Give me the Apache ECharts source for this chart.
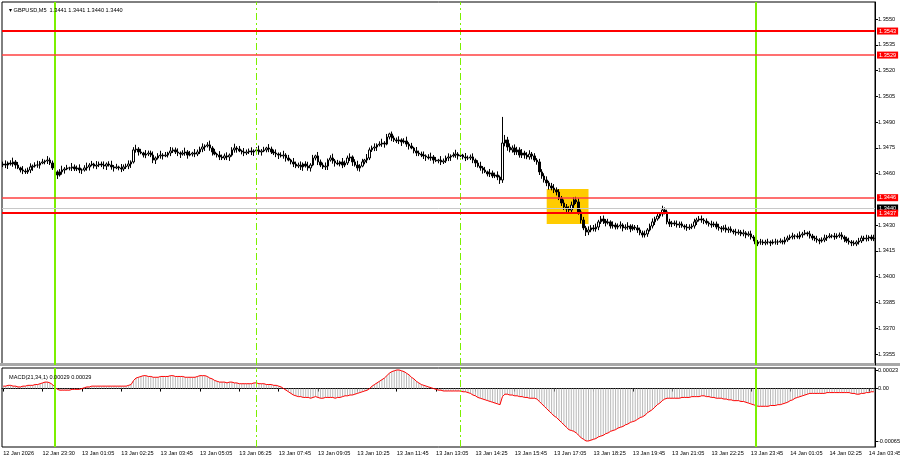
<!DOCTYPE html>
<html><head><meta charset="utf-8">
<script src="https://cdn.jsdelivr.net/npm/echarts@6/dist/echarts.min.js"></script>
<style>html,body{margin:0;padding:0;background:#fff}#c{width:900px;height:460px}</style>
</head><body><div id="c"></div>
<script>
// ---- OHLC (GBPUSD M5) ----
const opens=[1.34650,
1.34656,1.34650,1.34662,1.34656,1.34668,1.34650,1.34633,1.34621,1.34615,1.34610,
1.34621,1.34639,1.34644,1.34650,1.34650,1.34662,1.34668,1.34674,1.34679,1.34662,
1.34633,1.34610,1.34592,1.34610,1.34621,1.34627,1.34633,1.34633,1.34639,1.34627,
1.34633,1.34621,1.34621,1.34633,1.34639,1.34650,1.34656,1.34644,1.34650,1.34656,
1.34650,1.34644,1.34656,1.34650,1.34639,1.34633,1.34639,1.34633,1.34627,1.34639,
1.34644,1.34656,1.34668,1.34738,1.34743,1.34726,1.34720,1.34708,1.34714,1.34720,
1.34708,1.34679,1.34691,1.34703,1.34708,1.34703,1.34708,1.34720,1.34732,1.34738,
1.34726,1.34720,1.34714,1.34720,1.34726,1.34708,1.34714,1.34720,1.34714,1.34726,
1.34743,1.34755,1.34761,1.34767,1.34749,1.34726,1.34714,1.34708,1.34697,1.34691,
1.34703,1.34697,1.34708,1.34738,1.34749,1.34743,1.34732,1.34726,1.34720,1.34726,
1.34732,1.34726,1.34732,1.34738,1.34726,1.34732,1.34738,1.34749,1.34743,1.34726,
1.34720,1.34714,1.34708,1.34703,1.34708,1.34691,1.34679,1.34668,1.34656,1.34644,
1.34650,1.34639,1.34656,1.34644,1.34633,1.34650,1.34691,1.34703,1.34668,1.34650,
1.34639,1.34644,1.34679,1.34691,1.34674,1.34662,1.34656,1.34668,1.34650,1.34662,
1.34691,1.34697,1.34668,1.34650,1.34633,1.34644,1.34668,1.34679,1.34691,1.34738,
1.34749,1.34755,1.34767,1.34772,1.34778,1.34772,1.34813,1.34831,1.34807,1.34796,
1.34790,1.34796,1.34784,1.34790,1.34772,1.34761,1.34749,1.34732,1.34720,1.34714,
1.34708,1.34703,1.34697,1.34691,1.34697,1.34679,1.34674,1.34679,1.34668,1.34674,
1.34691,1.34697,1.34703,1.34708,1.34714,1.34703,1.34708,1.34697,1.34691,1.34691,
1.34697,1.34679,1.34662,1.34644,1.34633,1.34621,1.34610,1.34598,1.34604,1.34586,
1.34592,1.34580,1.34563,1.34778,1.34796,1.34755,1.34738,1.34749,1.34726,1.34738,
1.34708,1.34720,1.34708,1.34697,1.34714,1.34703,1.34679,1.34668,1.34610,1.34586,
1.34563,1.34546,1.34528,1.34516,1.34505,1.34493,1.34458,1.34429,1.34406,1.34394,
1.34388,1.34417,1.34447,1.34435,1.34377,1.34330,1.34284,1.34260,1.34272,1.34284,
1.34278,1.34289,1.34319,1.34336,1.34324,1.34313,1.34319,1.34295,1.34301,1.34289,
1.34295,1.34301,1.34284,1.34289,1.34295,1.34278,1.34289,1.34284,1.34272,1.34255,
1.34243,1.34249,1.34272,1.34295,1.34319,1.34336,1.34353,1.34365,1.34388,1.34377,
1.34319,1.34307,1.34313,1.34307,1.34301,1.34307,1.34295,1.34289,1.34284,1.34289,
1.34295,1.34319,1.34330,1.34336,1.34330,1.34324,1.34313,1.34307,1.34301,1.34307,
1.34289,1.34284,1.34278,1.34284,1.34272,1.34278,1.34266,1.34260,1.34255,1.34260,
1.34249,1.34255,1.34243,1.34249,1.34231,1.34225,1.34191,1.34202,1.34202,1.34196,
1.34202,1.34202,1.34196,1.34202,1.34202,1.34202,1.34208,1.34202,1.34214,1.34225,
1.34231,1.34237,1.34237,1.34231,1.34243,1.34249,1.34255,1.34249,1.34237,1.34225,
1.34220,1.34214,1.34208,1.34214,1.34225,1.34231,1.34237,1.34237,1.34231,1.34237,
1.34243,1.34231,1.34220,1.34208,1.34202,1.34196,1.34191,1.34202,1.34208,1.34225,
1.34220,1.34225,1.34231,1.34220];
const highs=[
1.34670,1.34677,1.34671,1.34678,1.34693,1.34679,1.34668,1.34640,1.34644,1.34629,
1.34635,1.34660,1.34653,1.34666,1.34675,1.34673,1.34686,1.34681,1.34702,1.34693,
1.34676,1.34654,1.34619,1.34626,1.34646,1.34638,1.34651,1.34640,1.34662,1.34653,
1.34647,1.34654,1.34630,1.34649,1.34664,1.34661,1.34674,1.34663,1.34673,1.34670,
1.34670,1.34671,1.34665,1.34672,1.34675,1.34650,1.34657,1.34646,1.34656,1.34653,
1.34658,1.34677,1.34677,1.34754,1.34768,1.34754,1.34744,1.34727,1.34737,1.34734,
1.34734,1.34729,1.34700,1.34719,1.34733,1.34719,1.34726,1.34727,1.34755,1.34752,
1.34752,1.34747,1.34729,1.34736,1.34751,1.34737,1.34732,1.34727,1.34743,1.34740,
1.34757,1.34776,1.34770,1.34783,1.34792,1.34760,1.34744,1.34721,1.34731,1.34711,
1.34717,1.34724,1.34717,1.34754,1.34774,1.34760,1.34761,1.34739,1.34749,1.34740,
1.34746,1.34753,1.34741,1.34754,1.34763,1.34743,1.34756,1.34756,1.34772,1.34757,
1.34740,1.34741,1.34723,1.34724,1.34733,1.34719,1.34709,1.34686,1.34691,1.34670,
1.34664,1.34671,1.34665,1.34672,1.34669,1.34661,1.34709,1.34710,1.34726,1.34682,
1.34664,1.34665,1.34688,1.34707,1.34716,1.34685,1.34680,1.34675,1.34691,1.34676,
1.34705,1.34718,1.34706,1.34684,1.34675,1.34655,1.34686,1.34686,1.34714,1.34752,
1.34763,1.34776,1.34776,1.34788,1.34803,1.34789,1.34831,1.34838,1.34845,1.34821,
1.34810,1.34817,1.34805,1.34806,1.34815,1.34783,1.34779,1.34756,1.34755,1.34734,
1.34728,1.34729,1.34712,1.34713,1.34722,1.34708,1.34697,1.34686,1.34702,1.34688,
1.34705,1.34718,1.34712,1.34724,1.34739,1.34725,1.34726,1.34715,1.34720,1.34705,
1.34711,1.34718,1.34688,1.34678,1.34669,1.34644,1.34639,1.34617,1.34627,1.34618,
1.34606,1.34613,1.34589,1.34930,1.34825,1.34814,1.34776,1.34764,1.34770,1.34756,
1.34753,1.34743,1.34733,1.34725,1.34736,1.34726,1.34719,1.34690,1.34686,1.34626,
1.34602,1.34584,1.34558,1.34546,1.34539,1.34520,1.34510,1.34470,1.34449,1.34423,
1.34410,1.34437,1.34463,1.34465,1.34456,1.34391,1.34348,1.34296,1.34293,1.34300,
1.34301,1.34309,1.34331,1.34353,1.34356,1.34336,1.34337,1.34328,1.34322,1.34314,
1.34310,1.34322,1.34311,1.34305,1.34317,1.34305,1.34305,1.34301,1.34301,1.34286,
1.34268,1.34268,1.34283,1.34309,1.34339,1.34349,1.34370,1.34376,1.34413,1.34403,
1.34390,1.34337,1.34325,1.34327,1.34327,1.34321,1.34321,1.34304,1.34307,1.34305,
1.34309,1.34337,1.34343,1.34353,1.34356,1.34341,1.34339,1.34322,1.34326,1.34320,
1.34321,1.34308,1.34295,1.34299,1.34303,1.34291,1.34293,1.34276,1.34279,1.34275,
1.34272,1.34274,1.34265,1.34264,1.34268,1.34242,1.34240,1.34214,1.34220,1.34216,
1.34215,1.34221,1.34211,1.34217,1.34221,1.34216,1.34223,1.34216,1.34232,1.34239,
1.34245,1.34256,1.34247,1.34252,1.34263,1.34261,1.34272,1.34263,1.34267,1.34249,
1.34238,1.34238,1.34224,1.34229,1.34245,1.34243,1.34253,1.34247,1.34255,1.34252,
1.34257,1.34259,1.34241,1.34233,1.34227,1.34213,1.34211,1.34212,1.34226,1.34239,
1.34238,1.34244,1.34241,1.34244,1.34244];
const lows=[
1.34638,1.34632,1.34627,1.34647,1.34640,1.34629,1.34626,1.34607,1.34597,1.34598,
1.34598,1.34603,1.34616,1.34635,1.34634,1.34629,1.34655,1.34654,1.34656,1.34650,
1.34621,1.34592,1.34569,1.34583,1.34594,1.34600,1.34620,1.34619,1.34615,1.34615,
1.34615,1.34603,1.34598,1.34612,1.34617,1.34618,1.34643,1.34630,1.34626,1.34638,
1.34638,1.34626,1.34621,1.34641,1.34623,1.34612,1.34626,1.34619,1.34609,1.34615,
1.34627,1.34626,1.34633,1.34659,1.34722,1.34705,1.34713,1.34694,1.34690,1.34702,
1.34696,1.34661,1.34656,1.34682,1.34687,1.34682,1.34696,1.34694,1.34702,1.34720,
1.34714,1.34702,1.34691,1.34705,1.34704,1.34687,1.34701,1.34700,1.34696,1.34702,
1.34714,1.34725,1.34732,1.34752,1.34733,1.34705,1.34707,1.34694,1.34679,1.34679,
1.34679,1.34679,1.34674,1.34699,1.34722,1.34722,1.34725,1.34712,1.34702,1.34708,
1.34714,1.34708,1.34703,1.34723,1.34710,1.34705,1.34725,1.34724,1.34725,1.34714,
1.34708,1.34696,1.34685,1.34694,1.34687,1.34670,1.34672,1.34654,1.34638,1.34632,
1.34632,1.34621,1.34616,1.34635,1.34617,1.34612,1.34643,1.34677,1.34650,1.34638,
1.34627,1.34621,1.34621,1.34670,1.34658,1.34641,1.34649,1.34642,1.34632,1.34638,
1.34650,1.34673,1.34645,1.34641,1.34617,1.34612,1.34637,1.34654,1.34661,1.34679,
1.34726,1.34731,1.34732,1.34758,1.34756,1.34751,1.34765,1.34799,1.34789,1.34784,
1.34778,1.34772,1.34761,1.34775,1.34756,1.34740,1.34742,1.34718,1.34702,1.34702,
1.34696,1.34685,1.34674,1.34682,1.34675,1.34658,1.34667,1.34660,1.34650,1.34656,
1.34662,1.34673,1.34674,1.34694,1.34692,1.34682,1.34696,1.34683,1.34673,1.34679,
1.34679,1.34661,1.34639,1.34635,1.34617,1.34600,1.34603,1.34584,1.34580,1.34574,
1.34574,1.34562,1.34540,1.34546,1.34759,1.34733,1.34724,1.34722,1.34708,1.34709,
1.34693,1.34691,1.34687,1.34684,1.34681,1.34683,1.34668,1.34652,1.34592,1.34570,
1.34548,1.34527,1.34507,1.34503,1.34487,1.34473,1.34446,1.34412,1.34388,1.34377,
1.34372,1.34370,1.34397,1.34423,1.34361,1.34310,1.34271,1.34237,1.34242,1.34259,
1.34264,1.34262,1.34271,1.34307,1.34307,1.34293,1.34304,1.34280,1.34280,1.34275,
1.34276,1.34280,1.34264,1.34273,1.34273,1.34259,1.34268,1.34271,1.34255,1.34241,
1.34228,1.34228,1.34232,1.34263,1.34281,1.34301,1.34326,1.34340,1.34350,1.34363,
1.34305,1.34290,1.34289,1.34295,1.34286,1.34284,1.34285,1.34275,1.34267,1.34272,
1.34277,1.34280,1.34301,1.34321,1.34314,1.34306,1.34303,1.34292,1.34285,1.34289,
1.34276,1.34268,1.34258,1.34268,1.34257,1.34255,1.34256,1.34247,1.34239,1.34244,
1.34236,1.34235,1.34224,1.34233,1.34216,1.34206,1.34164,1.34178,1.34186,1.34184,
1.34183,1.34187,1.34178,1.34187,1.34187,1.34185,1.34194,1.34188,1.34188,1.34203,
1.34214,1.34217,1.34218,1.34221,1.34218,1.34227,1.34241,1.34235,1.34222,1.34212,
1.34207,1.34198,1.34189,1.34198,1.34201,1.34208,1.34223,1.34224,1.34215,1.34220,
1.34226,1.34216,1.34201,1.34197,1.34187,1.34178,1.34180,1.34178,1.34187,1.34196,
1.34207,1.34205,1.34207,1.34209,1.34207];
const closes=[
1.34656,1.34650,1.34662,1.34656,1.34668,1.34650,1.34633,1.34621,1.34615,1.34610,
1.34621,1.34639,1.34644,1.34650,1.34650,1.34662,1.34668,1.34674,1.34679,1.34662,
1.34633,1.34610,1.34592,1.34610,1.34621,1.34627,1.34633,1.34633,1.34639,1.34627,
1.34633,1.34621,1.34621,1.34633,1.34639,1.34650,1.34656,1.34644,1.34650,1.34656,
1.34650,1.34644,1.34656,1.34650,1.34639,1.34633,1.34639,1.34633,1.34627,1.34639,
1.34644,1.34656,1.34668,1.34738,1.34743,1.34726,1.34720,1.34708,1.34714,1.34720,
1.34708,1.34679,1.34691,1.34703,1.34708,1.34703,1.34708,1.34720,1.34732,1.34738,
1.34726,1.34720,1.34714,1.34720,1.34726,1.34708,1.34714,1.34720,1.34714,1.34726,
1.34743,1.34755,1.34761,1.34767,1.34749,1.34726,1.34714,1.34708,1.34697,1.34691,
1.34703,1.34697,1.34708,1.34738,1.34749,1.34743,1.34732,1.34726,1.34720,1.34726,
1.34732,1.34726,1.34732,1.34738,1.34726,1.34732,1.34738,1.34749,1.34743,1.34726,
1.34720,1.34714,1.34708,1.34703,1.34708,1.34691,1.34679,1.34668,1.34656,1.34644,
1.34650,1.34639,1.34656,1.34644,1.34633,1.34650,1.34691,1.34703,1.34668,1.34650,
1.34639,1.34644,1.34679,1.34691,1.34674,1.34662,1.34656,1.34668,1.34650,1.34662,
1.34691,1.34697,1.34668,1.34650,1.34633,1.34644,1.34668,1.34679,1.34691,1.34738,
1.34749,1.34755,1.34767,1.34772,1.34778,1.34772,1.34813,1.34831,1.34807,1.34796,
1.34790,1.34796,1.34784,1.34790,1.34772,1.34761,1.34749,1.34732,1.34720,1.34714,
1.34708,1.34703,1.34697,1.34691,1.34697,1.34679,1.34674,1.34679,1.34668,1.34674,
1.34691,1.34697,1.34703,1.34708,1.34714,1.34703,1.34708,1.34697,1.34691,1.34691,
1.34697,1.34679,1.34662,1.34644,1.34633,1.34621,1.34610,1.34598,1.34604,1.34586,
1.34592,1.34580,1.34563,1.34778,1.34796,1.34755,1.34738,1.34749,1.34726,1.34738,
1.34708,1.34720,1.34708,1.34697,1.34714,1.34703,1.34679,1.34668,1.34610,1.34586,
1.34563,1.34546,1.34528,1.34516,1.34505,1.34493,1.34458,1.34429,1.34406,1.34394,
1.34388,1.34417,1.34447,1.34435,1.34377,1.34330,1.34284,1.34260,1.34272,1.34284,
1.34278,1.34289,1.34319,1.34336,1.34324,1.34313,1.34319,1.34295,1.34301,1.34289,
1.34295,1.34301,1.34284,1.34289,1.34295,1.34278,1.34289,1.34284,1.34272,1.34255,
1.34243,1.34249,1.34272,1.34295,1.34319,1.34336,1.34353,1.34365,1.34388,1.34377,
1.34319,1.34307,1.34313,1.34307,1.34301,1.34307,1.34295,1.34289,1.34284,1.34289,
1.34295,1.34319,1.34330,1.34336,1.34330,1.34324,1.34313,1.34307,1.34301,1.34307,
1.34289,1.34284,1.34278,1.34284,1.34272,1.34278,1.34266,1.34260,1.34255,1.34260,
1.34249,1.34255,1.34243,1.34249,1.34231,1.34225,1.34191,1.34202,1.34202,1.34196,
1.34202,1.34202,1.34196,1.34202,1.34202,1.34202,1.34208,1.34202,1.34214,1.34225,
1.34231,1.34237,1.34237,1.34231,1.34243,1.34249,1.34255,1.34249,1.34237,1.34225,
1.34220,1.34214,1.34208,1.34214,1.34225,1.34231,1.34237,1.34237,1.34231,1.34237,
1.34243,1.34231,1.34220,1.34208,1.34202,1.34196,1.34191,1.34202,1.34208,1.34225,
1.34220,1.34225,1.34231,1.34220,1.34225];
// ---- MACD(21,34,1) main = signal ----
const macd=[
0.00003,0.00003,0.00004,0.00004,0.00003,0.00003,0.00002,0.00002,0.00003,0.00003,0.00004,0.00004,0.00004,0.00005,0.00005,0.00006,0.00007,0.00008,
0.00008,0.00007,0.00005,0.00002,
-0.00001,-0.00002,-0.00002,-0.00002,-0.00002,-0.00002,-0.00001,-0.00001,-0.00001,-0.00001,0,
0.00001,0.00002,0.00002,0.00003,0.00003,0.00003,0.00003,0.00003,0.00003,0.00003,0.00003,0.00003,0.00003,0.00003,0.00003,0.00003,0.00003,0.00003,0.00004,0.00005,
0.00010,0.00013,0.00014,0.00015,0.00016,0.00016,0.00015,0.00015,
0.00014,0.00014,0.00014,0.00015,0.00015,0.00015,0.00015,0.00016,0.00016,0.00015,0.00015,0.00015,0.00015,0.00014,0.00014,0.00014,0.00014,0.00014,0.00015,0.00016,0.00016,0.00016,0.00015,0.00013,0.00012,
0.00010,0.00009,0.00008,0.00008,0.00008,0.00007,0.00008,0.00008,0.00007,0.00007,
0.00006,0.00006,0.00006,0.00006,0.00006,0.00006,0.00007,0.00007,0.00006,0.00006,0.00006,0.00005,0.00005,0.00005,0.00004,0.00004,0.00003,
0.00002,0,-0.00002,-0.00004,-0.00006,-0.00008,-0.00009,-0.00010,
-0.00010,-0.00011,-0.00011,-0.00011,-0.00012,-0.00011,-0.00010,-0.00011,-0.00012,-0.00012,-0.00011,-0.00011,-0.00011,-0.00011,-0.00012,-0.00011,-0.00011,-0.00010,-0.00009,-0.00009,
-0.00008,-0.00008,-0.00007,-0.00006,-0.00005,-0.00004,-0.00003,-0.00002,
0,0.00003,0.00005,0.00007,0.00009,0.00011,0.00013,0.00016,
0.00019,0.00021,0.00022,0.00023,0.00023,0.00022,0.00021,0.00019,0.00017,0.00014,
0.00012,0.00009,0.00007,0.00005,0.00004,0.00003,0.00002,0.00001,
0,-0.00001,-0.00002,-0.00002,-0.00003,-0.00003,-0.00003,-0.00003,-0.00003,-0.00003,-0.00003,-0.00003,-0.00004,-0.00004,-0.00005,-0.00006,
-0.00008,-0.00009,-0.00011,-0.00012,-0.00013,-0.00014,-0.00015,-0.00016,-0.00017,-0.00018,-0.00019,-0.00020,
-0.00010,-0.00007,-0.00007,-0.00008,-0.00008,
-0.00009,-0.00009,-0.00010,-0.00010,-0.00011,-0.00011,-0.00012,-0.00012,-0.00012,-0.00013,
-0.00016,-0.00019,-0.00022,-0.00025,-0.00028,-0.00031,-0.00034,-0.00036,-0.00039,-0.00042,-0.00045,-0.00048,-0.00051,-0.00052,-0.00053,-0.00055,
-0.00058,-0.00061,-0.00063,-0.00065,-0.00065,-0.00064,-0.00063,
-0.00062,-0.00060,-0.00059,-0.00058,-0.00056,-0.00055,-0.00053,-0.00052,-0.00051,-0.00049,-0.00048,-0.00047,-0.00045,-0.00044,-0.00042,-0.00041,-0.00040,-0.00038,-0.00036,-0.00035,-0.00033,-0.00030,
-0.00028,-0.00026,-0.00023,-0.00020,-0.00018,-0.00015,-0.00013,-0.00012,-0.00012,-0.00012,
-0.00012,-0.00012,-0.00012,-0.00011,-0.00011,-0.00011,-0.00011,-0.00010,-0.00010,-0.00010,-0.00010,-0.00009,-0.00009,-0.00010,-0.00010,-0.00011,-0.00011,-0.00012,-0.00012,-0.00012,-0.00013,-0.00013,-0.00014,-0.00014,-0.00015,-0.00015,-0.00015,-0.00016,
-0.00016,-0.00017,-0.00018,-0.00019,-0.00020,-0.00021,-0.00022,-0.00022,-0.00022,-0.00022,-0.00022,-0.00021,-0.00021,-0.00021,-0.00020,-0.00020,-0.00019,-0.00018,-0.00017,-0.00015,
-0.00014,-0.00012,-0.00011,-0.00010,-0.00009,-0.00008,-0.00007,-0.00006,-0.00006,-0.00006,-0.00006,-0.00006,-0.00006,-0.00006,-0.00005,-0.00005,-0.00005,
-0.00005,-0.00005,-0.00005,-0.00005,-0.00005,-0.00005,-0.00005,-0.00006,-0.00006,-0.00007,-0.00007,-0.00006,-0.00006,-0.00005,-0.00005,-0.00004,-0.00004];

// ---- axis labels ----
const timeLabels=["12 Jan 2026","12 Jan 23:30","13 Jan 01:05","13 Jan 02:25","13 Jan 03:45","13 Jan 05:05","13 Jan 06:25","13 Jan 07:45","13 Jan 09:05","13 Jan 10:25","13 Jan 11:45","13 Jan 13:05","13 Jan 14:25","13 Jan 15:45","13 Jan 17:05","13 Jan 18:25","13 Jan 19:45","13 Jan 21:05","13 Jan 22:25","13 Jan 23:45","14 Jan 01:05","14 Jan 02:25","14 Jan 03:45"];
const labelStep=16;
const priceTicks=[1.3355,1.3370,1.3385,1.3400,1.3415,1.3430,1.3460,1.3475,1.3490,1.3505,1.3520,1.3535,1.3550];
const macdTicks=[0.00023,0,-0.00065];
// ---- annotations ----
const strongLevels=[1.3543,1.3437];
const weakLevels=[1.3529,1.3446];
const bidPrice=1.3440;
const dayLines=[21,306];
const sessionLines=[103,186];
const boxBars=[221,238];
const boxPrices=[1.34511,1.34307];
const titleText='\u25BE GBPUSD,M5  1.3441 1.3441 1.3440 1.3440';
const macdTitle='MACD(21,34,1) 0.00029 0.00029';

const N=closes.length;
const cats=[];
{ let t=Date.UTC(2026,0,12,22,25);
  for(let i=0;i<N;i++){const d=new Date(t+i*300000);
    cats.push(d.getUTCDate()+' Jan '+String(d.getUTCHours()).padStart(2,'0')+':'+String(d.getUTCMinutes()).padStart(2,'0'));}
}
const candles=opens.map((o,i)=>[o,closes[i],lows[i],highs[i]]);
const FONT='Liberation Sans';
const FS=5.6;
const GREEN='#7CF000';
const showIdx=i=>i%labelStep===0 && i/labelStep<timeLabels.length;

const vLines=[
  ...dayLines.map(v=>({xAxis:v,lineStyle:{color:GREEN,width:2,type:'solid'}})),
  ...sessionLines.map(v=>({xAxis:v,lineStyle:{color:GREEN,width:1,type:[7,3,2,3]}}))
];
const tagLabel=(bg)=>({show:true,position:'end',distance:2,formatter:p=>Number(p.value).toFixed(4),
  backgroundColor:bg,color:'#fff',fontSize:FS,fontFamily:FONT,padding:[1,2,0,2]});

const chart=echarts.init(document.getElementById('c'),null,{renderer:'canvas'});
chart.setOption({
  animation:false,
  backgroundColor:'#fff',
  textStyle:{fontFamily:FONT},
  title:[
    {text:titleText,left:4,top:2,textStyle:{fontSize:FS,fontWeight:'normal',color:'#000',fontFamily:FONT}},
    {text:macdTitle,left:4,top:369,textStyle:{fontSize:FS,fontWeight:'normal',color:'#000',fontFamily:FONT}}
  ],
  graphic:[{type:'rect',shape:{x:0,y:363,width:900,height:3},style:{fill:'#a8a8a8'},silent:true}],
  grid:[
    {left:2,right:25,top:2,bottom:95,show:true,borderColor:'#000',borderWidth:1,backgroundColor:'transparent',containLabel:false,outerBoundsMode:'none'},
    {left:2,right:25,top:368,bottom:13,show:true,borderColor:'#000',borderWidth:1,backgroundColor:'transparent',containLabel:false,outerBoundsMode:'none'}
  ],
  xAxis:[
    {type:'category',gridIndex:0,data:cats,boundaryGap:true,axisLine:{show:false},axisTick:{show:false},axisLabel:{show:false},splitLine:{show:false}},
    {type:'category',gridIndex:1,data:cats,boundaryGap:true,
      axisLine:{show:true,lineStyle:{color:'#000',width:1}},
      axisTick:{show:true,alignWithLabel:true,interval:showIdx,length:3,lineStyle:{color:'#000'}},
      axisLabel:{show:true,interval:showIdx,formatter:(v,i)=>timeLabels[i/labelStep],fontSize:FS,fontFamily:FONT,color:'#000',align:'left',margin:3,hideOverlap:false},
      splitLine:{show:false}}
  ],
  yAxis:[
    {type:'value',gridIndex:0,position:'right',min:1.33486,max:1.35599,
      axisLine:{show:true,lineStyle:{color:'#000'}},
      axisTick:{show:true,customValues:priceTicks,length:3,lineStyle:{color:'#000'}},
      axisLabel:{show:true,customValues:priceTicks,formatter:v=>v.toFixed(4),fontSize:FS,fontFamily:FONT,color:'#000',margin:3},
      splitLine:{show:false}},
    {type:'value',gridIndex:1,position:'right',min:-0.000725,max:0.000255,
      axisLine:{show:true,lineStyle:{color:'#000'}},
      axisTick:{show:true,customValues:macdTicks,length:3,lineStyle:{color:'#000'}},
      axisLabel:{show:true,customValues:macdTicks,formatter:v=>v===0?'0.00':v.toFixed(5),fontSize:FS,fontFamily:FONT,color:'#000',margin:3},
      splitLine:{show:false}}
  ],
  series:[
    {type:'candlestick',xAxisIndex:0,yAxisIndex:0,data:candles,barWidth:2,
      itemStyle:{color:'#ffffff',color0:'#000000',borderColor:'#000000',borderColor0:'#000000',borderWidth:1},
      markArea:{silent:true,itemStyle:{color:'#FFCC00',opacity:1},
        data:[[{xAxis:boxBars[0],yAxis:boxPrices[0]},{xAxis:boxBars[1],yAxis:boxPrices[1]}]]},
      markLine:{silent:true,symbol:['none','none'],animation:false,precision:5,
        data:[
          ...vLines.map(d=>Object.assign({label:{show:false}},d)),
          ...weakLevels.map(v=>({yAxis:v,lineStyle:{color:'#ff4040',width:1.5,type:'solid',opacity:1},label:tagLabel('#ff0000')})),
          {yAxis:bidPrice,lineStyle:{color:'#c8c8c8',width:1,type:'solid'},label:tagLabel('#000000')},
          ...strongLevels.map(v=>({yAxis:v,lineStyle:{color:'#ff0000',width:2,type:'solid'},label:tagLabel('#ff0000')}))
        ]}},
    {type:'bar',xAxisIndex:1,yAxisIndex:1,data:macd,barWidth:1,itemStyle:{color:'#b8b8b8'},
      markLine:{silent:true,symbol:['none','none'],animation:false,
        data:vLines.map(d=>Object.assign({label:{show:false}},d))}},
    {type:'line',xAxisIndex:1,yAxisIndex:1,data:macd,showSymbol:false,symbol:'none',
      lineStyle:{color:'#ff0000',width:1},z:3}
  ]
});
</script></body></html>
